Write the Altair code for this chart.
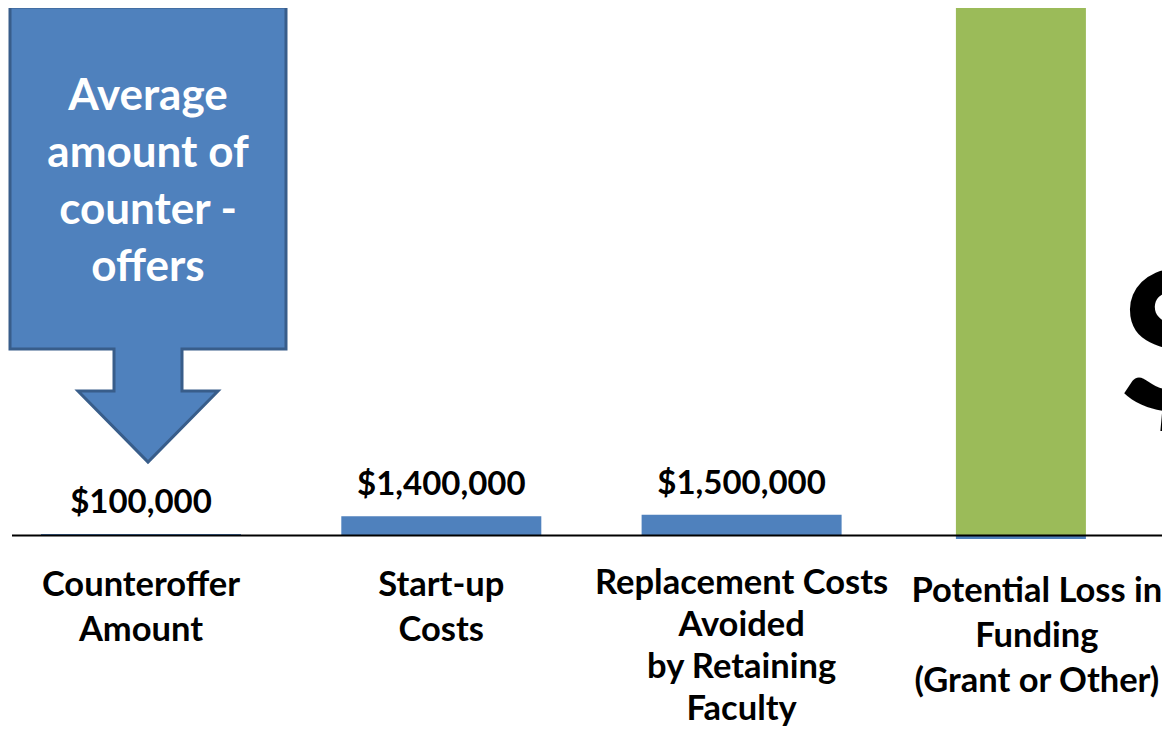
import altair as alt
import pandas as pd

# ---- data ----
categories = [
    "Counteroffer Amount",
    "Start-up Costs",
    "Replacement Costs Avoided by Retaining Faculty",
    "Potential Loss in Funding (Grant or Other)",
]
category_lines = [
    "Counteroffer\nAmount",
    "Start-up\nCosts",
    "Replacement Costs\nAvoided\nby Retaining\nFaculty",
    "Potential Loss in\nFunding\n(Grant or Other)",
]
blue_values = [100000, 1400000, 1500000, -250000]
green_values = [0, 0, 0, 50000000]
callout_text = "Average\namount of\ncounter -\noffers"
big_label = "$"

BLUE = "#4F81BD"
DARK_BLUE = "#385D8A"
GREEN = "#9BBB59"
FONT = "Lato"

df = pd.DataFrame({
    "idx": list(range(len(categories))),
    "cat": categories,
    "lines": category_lines,
    "blue": blue_values,
    "green": green_values,
})

W, H = 1154, 719
xscale = alt.Scale(domain=[-0.4429, 3.3999], nice=False, padding=0)
yscale = alt.Scale(domain=[-13877000, 38220000], nice=False, padding=0)

X = alt.X("idx:Q", scale=xscale, axis=None)
Yb = alt.Y("blue:Q", scale=yscale, axis=None)

base = alt.Chart(df).transform_calculate(zero="0")
Y0 = alt.Y2("zero:Q")

blue_main = base.transform_filter("datum.green == 0").mark_bar(
    color=BLUE, width=200
).encode(x=X, y=Yb, y2=Y0)

blue_small = base.transform_filter("datum.green > 0").mark_bar(
    color=BLUE, width=130, xOffset=-21
).encode(x=X, y=Yb, y2=Y0)

green_bar = base.transform_filter("datum.green > 0").mark_bar(
    color=GREEN, width=130, xOffset=-21, clip=True
).encode(x=X, y=alt.Y("green:Q", scale=yscale, axis=None), y2=Y0)

axis_line = base.transform_filter("datum.idx == 0").mark_rule(
    color="black", strokeWidth=2
).encode(x=alt.value(4), x2=alt.value(1154),
         y=alt.Y("zero:Q", scale=yscale, axis=None))

value_labels = base.transform_filter("datum.green == 0").transform_calculate(
    label="'$' + format(datum.blue, ',')"
).mark_text(font=FONT, fontWeight="bold", fontSize=33, color="black",
            baseline="alphabetic", dy=-21).encode(
    x=X, y=Yb, text="label:N"
)

def cat_text(filt, y0, lh, dx=0):
    return base.transform_filter(filt).mark_text(
        font=FONT, fontWeight="bold", fontSize=34.5, color="black",
        baseline="alphabetic", lineBreak="\n", lineHeight=lh, dx=dx
    ).encode(x=X, y=alt.value(y0), text="lines:N")

cat_labels12 = cat_text("datum.idx < 2", 588, 45)
cat_labels3 = cat_text("datum.idx == 2", 586, 42)
cat_labels4 = cat_text("datum.idx == 3", 594, 45, dx=-5)

arrow_path = ("M-138,-228 L138,-228 L138,114 L34,114 L34,156 L70,156 "
              "L0,227 L-70,156 L-34,156 L-34,114 L-138,114 Z")
callout = base.transform_filter("datum.idx == 0").mark_point(
    shape=arrow_path, filled=True, fill=BLUE, stroke=DARK_BLUE,
    strokeWidth=3, opacity=1
).encode(x=alt.value(140), y=alt.value(227), size=alt.value(4))

callout_txt = base.transform_filter("datum.idx == 0").transform_calculate(
    t="'" + callout_text.replace("\n", "\\n") + "'"
).mark_text(font=FONT, fontWeight="bold", fontSize=44, color="white",
            baseline="alphabetic", lineBreak="\n", lineHeight=57,
            align="center").encode(
    x=alt.value(140), y=alt.value(102), text="t:N"
)

big_dollar = base.transform_filter("datum.idx == 3").transform_calculate(
    b="'" + big_label + "'"
).mark_text(font=FONT, fontWeight=900, fontSize=192, color="black",
            baseline="alphabetic", align="left").encode(
    x=alt.value(1111), y=alt.value(402), text="b:N"
)

chart = alt.layer(
    green_bar, blue_main, blue_small, axis_line, value_labels,
    cat_labels12, cat_labels3, cat_labels4,
    callout, callout_txt, big_dollar
).properties(
    width=W, height=H, autosize=alt.AutoSizeParams(type="none"), padding=0
).configure_view(strokeWidth=0)

chart.save("out.html", embed_options={"renderer": "svg", "actions": False})
